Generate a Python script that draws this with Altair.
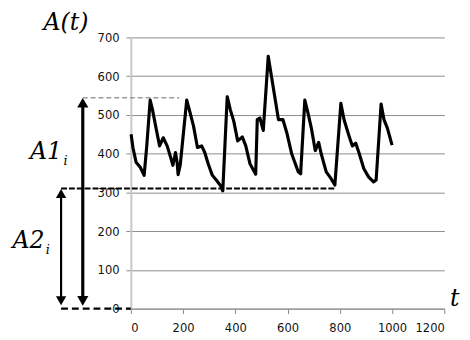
import altair as alt
import pandas as pd

# ---- data ----
t_vals = [1, 8, 20, 36, 51, 61, 74, 83, 95, 110, 124, 139, 152, 161, 171, 177,
          181, 189, 214, 227, 240, 255, 271, 283, 296, 312, 327, 346, 352, 369,
          381, 394, 409, 427, 440, 456, 478, 484, 494, 507, 526, 544, 565, 582,
          597, 616, 641, 650, 666, 678, 691, 706, 719, 729, 748, 766, 781, 804,
          816, 835, 848, 861, 873, 892, 910, 929, 939, 958, 969, 982, 1000]
a_vals = [450, 416, 378, 365, 344, 420, 538, 513, 471, 420, 441, 420, 391, 370,
          403, 378, 346, 370, 538, 505, 471, 416, 420, 403, 374, 344, 332, 315,
          304, 547, 513, 484, 433, 443, 420, 374, 347, 488, 492, 460, 651, 576,
          488, 488, 454, 399, 353, 348, 538, 505, 466, 408, 429, 399, 353, 336,
          319, 530, 488, 446, 420, 427, 403, 361, 340, 327, 332, 528, 488, 466,
          422]

x_ticks = [0, 200, 400, 600, 800, 1000, 1200]
y_ticks = [0, 100, 200, 300, 400, 500, 600, 700]

# annotation levels
peak_level = 544
trough_level = 310
base_level = 0
arrow1_t = -184
arrow2_t = -267
peak_dash_end = 185
trough_dash_end = 783

FONT = "DejaVu Sans Condensed, Arial Narrow, sans-serif"
SERIF = "DejaVu Serif, serif"

xs = alt.Scale(domain=[0, 1200], nice=False)
ys = alt.Scale(domain=[0, 700], nice=False)

x_axis = alt.Axis(values=x_ticks, grid=False, title=None, format="d",
                  domainColor="#8a8a8a", tickColor="#8a8a8a", tickSize=5,
                  labelFont=FONT, labelFontSize=13, labelColor="#111111",
                  labelPadding=8, labelOverlap=False)
y_axis = alt.Axis(values=y_ticks, grid=True, gridColor="#8c8c8c", gridWidth=1,
                  title=None, format="d", domainColor="#c8c8c8", domainWidth=2,
                  tickColor="#8a8a8a", tickSize=5, labelFont=FONT,
                  labelFontSize=13, labelColor="#111111", labelPadding=7,
                  labelOverlap=False)

def X(f):
    return alt.X(f, scale=xs, axis=x_axis)

def Y(f):
    return alt.Y(f, scale=ys, axis=y_axis)

df = pd.DataFrame({"t": t_vals, "A": a_vals})

line = alt.Chart(df).mark_line(color="black", strokeWidth=3.2, strokeJoin="round").encode(
    x=X("t:Q"), y=Y("A:Q"))

def hrule(x1, x2, y, **kw):
    d = pd.DataFrame({"x": [x1], "x2": [x2], "y": [y]})
    return alt.Chart(d).mark_rule(**kw).encode(x=X("x:Q"), x2="x2:Q", y=Y("y:Q"))

dash_peak = hrule(arrow1_t, peak_dash_end, peak_level, color="#9a9a9a",
                  strokeDash=[5, 3], strokeWidth=1.5)
dash_trough = hrule(arrow2_t, trough_dash_end, trough_level, color="black",
                    strokeDash=[6, 2], strokeWidth=2.2)
dash_base = hrule(arrow2_t, 0, base_level, color="black",
                  strokeDash=[7, 4], strokeWidth=2.5)

def arrow(t, top, bottom, width, size):
    shaft = pd.DataFrame({"x": [t], "y": [top - 10], "y2": [bottom + 18]})
    s = alt.Chart(shaft).mark_rule(color="black", strokeWidth=width).encode(
        x=X("x:Q"), y=Y("y:Q"), y2="y2:Q")
    up = alt.Chart(pd.DataFrame({"x": [t], "y": [top]})).mark_point(
        shape="triangle-up", filled=True, color="black", opacity=1, size=size,
        yOffset=5).encode(x=X("x:Q"), y=Y("y:Q"))
    dn = alt.Chart(pd.DataFrame({"x": [t], "y": [bottom]})).mark_point(
        shape="triangle-down", filled=True, color="black", opacity=1, size=size,
        yOffset=-8).encode(x=X("x:Q"), y=Y("y:Q"))
    return s + up + dn

arrow1 = arrow(arrow1_t, peak_level, base_level, 3.2, 130)
arrow2 = arrow(arrow2_t, trough_level, base_level, 2.2, 110)

big_labels = pd.DataFrame({
    "x": [-248, -325, -392, 1240],
    "y": [737, 405, 175, 25],
    "text": ["A(t)", "A1", "A2", "t"],
})
sub_labels = pd.DataFrame({
    "x": [-250, -318],
    "y": [380, 152],
    "text": ["i", "i"],
})
big = alt.Chart(big_labels).mark_text(font=SERIF, fontStyle="italic", fontSize=24,
                                      color="black", align="center",
                                      baseline="middle").encode(
    x=X("x:Q"), y=Y("y:Q"), text="text:N")
sub = alt.Chart(sub_labels).mark_text(font=SERIF, fontStyle="italic", fontSize=13,
                                      color="black", align="center",
                                      baseline="middle").encode(
    x=X("x:Q"), y=Y("y:Q"), text="text:N")

chart = alt.layer(dash_peak, dash_trough, dash_base, arrow1, arrow2, line, big, sub).properties(
    width=319, height=276,
    autosize=alt.AutoSizeParams(type="none"),
    padding={"left": 125, "top": 27, "right": 18, "bottom": 30},
    background="white",
).configure_view(stroke=None)

chart.save("out.html", embed_options={"renderer": "svg", "actions": False})
